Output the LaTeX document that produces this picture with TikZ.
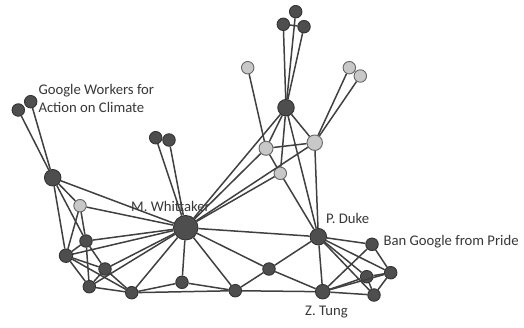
\documentclass[tikz,border=0pt]{standalone}
\usepackage{fontspec}
\setmainfont{Carlito}
\usetikzlibrary{positioning}
\definecolor{nodedark}{RGB}{78,78,78}
\definecolor{nodelight}{RGB}{200,200,200}
\definecolor{labelgray}{RGB}{55,55,55}
\tikzstyle{actor} = [draw=black!80, fill=nodedark, circle, inner sep=0pt,
    minimum size=12.5pt, line width=0.9pt]
\tikzstyle{outsider} = [actor, fill=nodelight, draw=black!60]
\tikzstyle{hub} = [actor, minimum size=16.5pt]
\tikzstyle{tie} = [draw=black!75, line width=1.5pt]
\tikzstyle{tag} = [text=labelgray, font=\fontsize{14.7}{17.3}\selectfont,
    inner sep=0pt, anchor=base west]

\begin{document}
\begin{tikzpicture}[x=1pt, y=-1pt]
    \useasboundingbox (0,0) rectangle (524,327);

    % labels
    \node [tag, name=gwlabel] at (38.3,94.7) {Google Workers for};
    \node [tag, below=17.3pt of gwlabel.base west, anchor=base west] (gwlabel2) {Action on Climate};
    \node [tag, name=whitlabel] at (131,211) {M. Whittaker};
    \node [tag, name=dukelabel] at (326,223.5) {P. Duke};
    \node [tag, name=banlabel] at (383.3,245.5) {Ban Google from Pride};
    \node [tag, name=tunglabel] at (305,315) {Z. Tung};

    % top cluster
    \node [actor] at (295.7,11.7) (topa) {};
    \node [actor] at (283.3,24.3) (topb) {};
    \node [actor] at (304,26.7) (topc) {};
    \node [hub] at (286,107.7) (top) {};
    \node [outsider] at (247.7,67.7) (greya) {};
    \node [outsider] at (349.3,67.7) (greyb) {};
    \node [outsider] at (360.3,76) (greyc) {};
    \node [outsider, minimum size=14pt] at (266,148.3) (mid1) {};
    \node [outsider, minimum size=15.5pt] at (314.7,142.7) (mid2) {};
    \node [outsider] at (280.3,173.3) (mid3) {};

    % left cluster
    \node [actor] at (18.3,110) (gw1) {};
    \node [actor] at (30.7,101.7) (gw2) {};
    \node [hub] at (52.7,177.7) (left) {};
    \node [outsider] at (80,205.7) (grey) {};
    \node [actor] at (86,241) (la) {};
    \node [actor, minimum size=13.5pt] at (66,255.7) (lb) {};
    \node [actor] at (105,269) (lc) {};
    \node [actor] at (89.3,286.7) (ld) {};
    \node [actor] at (131.7,292.7) (le) {};
    \node [actor] at (155.7,137.7) (pair1) {};
    \node [actor] at (169,140) (pair2) {};

    % middle and right
    \node [actor, minimum size=24.5pt] at (185.7,227.7) (whit) {};
    \node [actor] at (182,282.3) (mf) {};
    \node [actor] at (235.3,290.7) (mg) {};
    \node [actor] at (269,269) (mh) {};
    \node [hub] at (318.3,236.7) (duke) {};
    \node [actor, minimum size=14.5pt] at (322.7,291.7) (tung) {};
    \node [actor] at (372,244.3) (ban) {};
    \node [actor] at (366.7,276.7) (ri) {};
    \node [actor] at (390.7,272.7) (rj) {};
    \node [actor] at (374,295) (rk) {};

    % ties, top
    \draw [tie] (topa) -- (top);
    \draw [tie] (topb) -- (top);
    \draw [tie] (topc) -- (top);
    \draw [tie] (topb) -- (topc);
    \draw [tie] (greya) -- (mid1);
    \draw [tie] (greyb) -- (mid2);
    \draw [tie] (greyc) -- (mid2);
    \draw [tie] (top) -- (mid1);
    \draw [tie] (top) -- (mid2);
    \draw [tie] (top) -- (mid3);
    \draw [tie] (top) -- (whit);
    \draw [tie] (top) -- (duke);
    \draw [tie] (mid1) -- (mid2);
    \draw [tie] (mid1) -- (mid3);
    \draw [tie] (mid1) -- (whit);
    \draw [tie] (mid2) -- (whit);
    \draw [tie] (mid3) -- (whit);
    \draw [tie] (mid2) -- (duke);
    \draw [tie] (mid3) -- (duke);

    % ties, left
    \draw [tie] (gw1) -- (left);
    \draw [tie] (gw2) -- (left);
    \draw [tie] (pair1) -- (whit);
    \draw [tie] (pair2) -- (whit);
    \draw [tie] (left) -- (grey);
    \draw [tie] (left) -- (la);
    \draw [tie] (left) -- (lb);
    \draw [tie] (left) -- (whit);
    \draw [tie] (grey) -- (whit);
    \draw [tie] (grey) -- (la);
    \draw [tie] (grey) -- (lb);
    \draw [tie] (la) -- (lb);
    \draw [tie] (la) -- (lc);
    \draw [tie] (la) -- (ld);
    \draw [tie] (la) -- (whit);
    \draw [tie] (lb) -- (lc);
    \draw [tie] (lb) -- (ld);
    \draw [tie] (lb) -- (le);
    \draw [tie] (lb) -- (whit);
    \draw [tie] (lc) -- (ld);
    \draw [tie] (lc) -- (le);
    \draw [tie] (lc) -- (whit);
    \draw [tie] (ld) -- (le);
    \draw [tie] (ld) -- (whit);

    % ties, bottom and right
    \draw [tie] (le) -- (whit);
    \draw [tie] (le) -- (mf);
    \draw [tie] (le) -- (mg);
    \draw [tie] (mf) -- (mg);
    \draw [tie] (mf) -- (whit);
    \draw [tie] (mg) -- (whit);
    \draw [tie] (mg) -- (mh);
    \draw [tie] (mg) -- (tung);
    \draw [tie] (mh) -- (whit);
    \draw [tie] (mh) -- (duke);
    \draw [tie] (mh) -- (tung);
    \draw [tie] (whit) -- (duke);
    \draw [tie] (duke) -- (tung);
    \draw [tie] (duke) -- (ban);
    \draw [tie] (duke) -- (ri);
    \draw [tie] (duke) -- (rj);
    \draw [tie] (duke) -- (rk);
    \draw [tie] (tung) -- (ban);
    \draw [tie] (tung) -- (ri);
    \draw [tie] (tung) -- (rj);
    \draw [tie] (tung) -- (rk);
    \draw [tie] (ban) -- (rj);
    \draw [tie] (ri) -- (rj);
    \draw [tie] (ri) -- (rk);
    \draw [tie] (rj) -- (rk);
\end{tikzpicture}
\end{document}
